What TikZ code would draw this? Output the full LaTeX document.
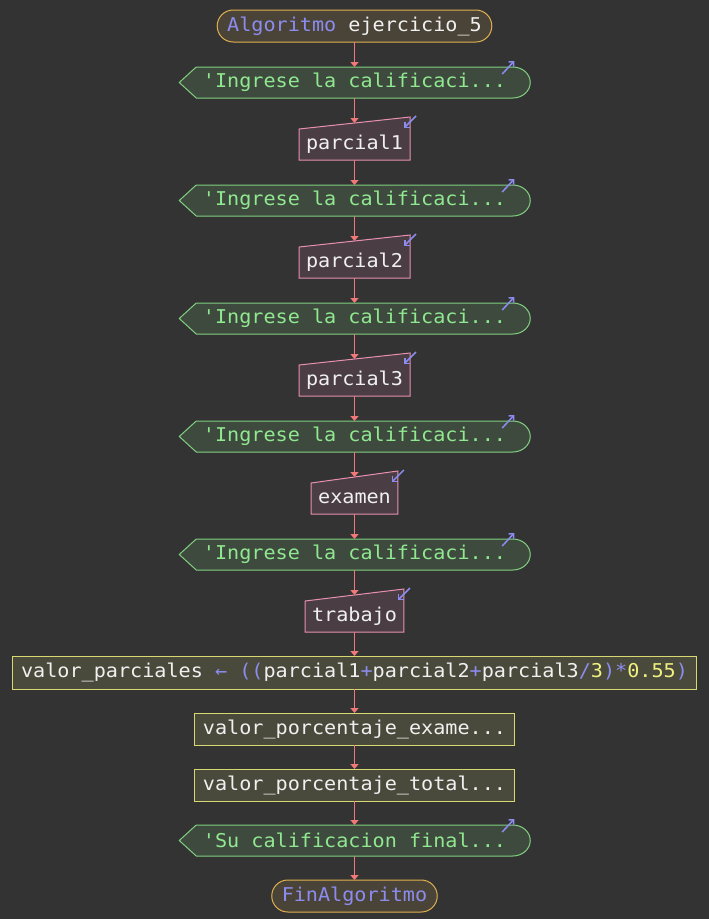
\documentclass[tikz,border=0pt]{standalone}
\usepackage{fontspec}
\setmonofont[FakeStretch=1.06]{DejaVu Sans Mono}
\usetikzlibrary{positioning, arrows.meta}

\definecolor{bgcol}{HTML}{333333}
\definecolor{termline}{HTML}{E0B050}
\definecolor{termfill}{HTML}{4A4438}
\definecolor{txtcol}{HTML}{F0F0F0}
\definecolor{kwcol}{HTML}{8C8CF0}
\definecolor{nmcol}{HTML}{F0F080}
\definecolor{outline}{HTML}{80D080}
\definecolor{outfill}{HTML}{3E4A3E}
\definecolor{outtxt}{HTML}{90E890}
\definecolor{inline}{HTML}{E890B0}
\definecolor{infill}{HTML}{4A3E44}
\definecolor{procline}{HTML}{D8D870}
\definecolor{procfill}{HTML}{4A4A3C}
\definecolor{flowcol}{HTML}{F07878}

\pgfdeclarelayer{back}
\pgfsetlayers{back,main}

\newcommand{\kw}[1]{\textcolor{kwcol}{#1}}
\newcommand{\nm}[1]{\textcolor{nmcol}{#1}}

\begin{document}
\begin{tikzpicture}[
    every node/.style={outer sep=0pt},
    term/.style={draw=termline, fill=termfill, line width=1pt, rounded corners=16pt, minimum height=32pt, inner xsep=10pt, inner ysep=0pt, text=txtcol},
    outp/.style={minimum width=316.5pt, minimum height=31pt, inner sep=0pt, text=outtxt},
    inp/.style={minimum height=31pt, inner xsep=7pt, inner ysep=0pt, text=txtcol},
    proc/.style={draw=procline, fill=procfill, line width=1pt, minimum height=32pt, inner xsep=8.5pt, inner ysep=0pt, text=txtcol},
    outshape/.style={draw=outline, fill=outfill, line width=1pt},
    inshape/.style={draw=inline, fill=infill, line width=1pt},
    flow/.style={draw=flowcol, line width=1.5pt, -{Triangle[length=5pt,width=8pt]}},
    icon/.style={draw=kwcol, line width=1.5pt, -{Straight Barb[length=3.5pt,width=7pt]}},
    font=\ttfamily\fontsize{19}{23}\selectfont,
    node distance=24pt
    ]

\node[term] (start) at (354.5pt,-26pt) {\kw{Algoritmo} ejercicio\_5};
\node[outp, below=25pt of start] (out1) {'Ingrese la calificaci...};
\node[inp, below=31pt of out1] (in1) {parcial1};
\node[outp, below=25pt of in1] (out2) {'Ingrese la calificaci...};
\node[inp, below=31pt of out2] (in2) {parcial2};
\node[outp, below=25pt of in2] (out3) {'Ingrese la calificaci...};
\node[inp, below=31pt of out3] (in3) {parcial3};
\node[outp, below=25pt of in3] (out4) {'Ingrese la calificaci...};
\node[inp, below=31pt of out4] (in4) {examen};
\node[outp, below=25pt of in4] (out5) {'Ingrese la calificaci...};
\node[inp, below=31pt of out5] (in5) {trabajo};
\node[proc, minimum height=33pt, below=of in5] (asg1) {valor\_parciales \kw{← ((}parcial1\kw{+}parcial2\kw{+}parcial3\kw{/}\nm{3}\kw{)*}\nm{0.55}\kw{)}};
\node[proc, below=of asg1] (asg2) {valor\_porcentaje\_exame...};
\node[proc, below=of asg2] (asg3) {valor\_porcentaje\_total...};
\node[outp, below=of asg3] (out6) {'Su calificacion final...};
\node[term, below=of out6] (fin) {\kw{FinAlgoritmo}};

\foreach \a/\b in {start/out1, in1/out2, in2/out3, in3/out4, in4/out5,
            in5/asg1, asg1/asg2, asg2/asg3, asg3/out6, out6/fin}
    \draw[flow] (\a)--(\b);
\foreach \a/\b in {out1/in1, out2/in2, out3/in3, out4/in4, out5/in5}
    \draw[flow] (\a)--([yshift=6pt]\b.north);

\foreach \i in {1,...,6}
    \draw[icon] ([shift={(-10.5pt,-7pt)}]out\i.north east)--++(12pt,13pt);
\foreach \i in {1,...,5}
    \draw[icon] ([shift={(6pt,13pt)}]in\i.north east)--++(-12pt,-12pt);

\begin{pgfonlayer}{back}
\fill[bgcol] (0,0) rectangle (709pt,-919pt);
\foreach \i in {1,...,6}
    \path[outshape] (out\i.north west)--(out\i.north east)
        arc[start angle=90, end angle=-90, x radius=17.5pt, y radius=15.5pt]
        --(out\i.south west)--([xshift=-17pt]out\i.west)--cycle;
\foreach \i in {1,...,5}
    \path[inshape] (in\i.south west)--(in\i.north west)
        --([yshift=12pt]in\i.north east)--(in\i.south east)--cycle;
\end{pgfonlayer}

\end{tikzpicture}
\end{document}
